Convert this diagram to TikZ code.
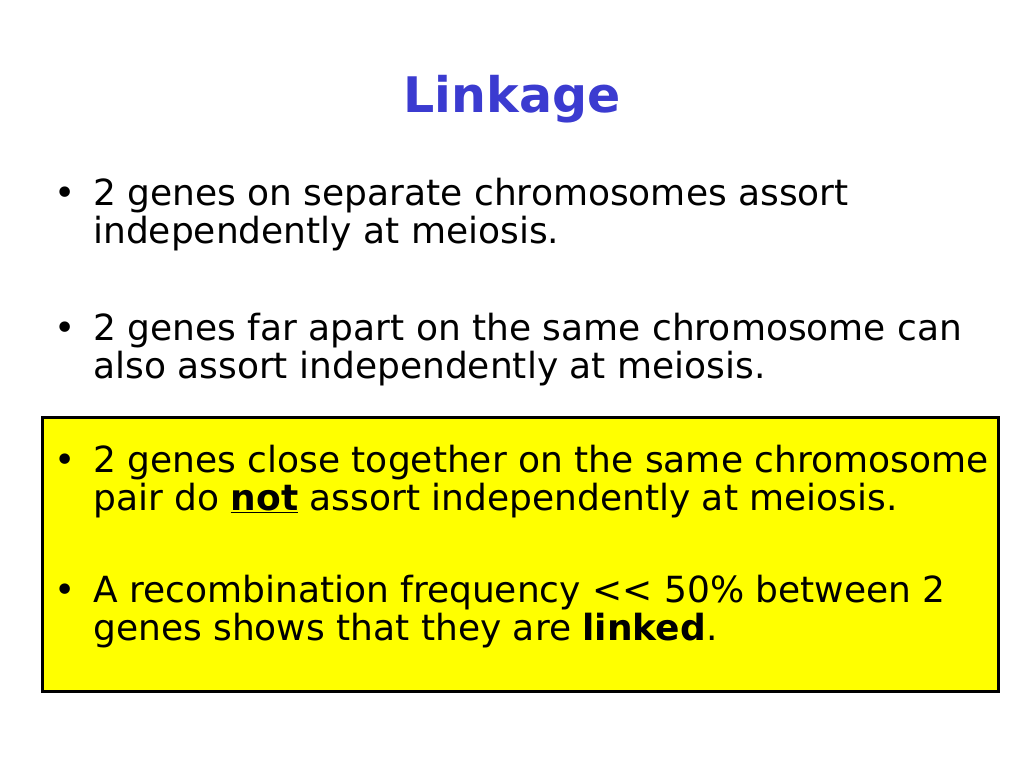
\documentclass[tikz,border=0pt]{standalone}
\usepackage{fontspec}
\setmainfont{DejaVu Sans}
\usepackage{xcolor}
\usepackage{tikz}
\usetikzlibrary{positioning}
\definecolor{titleblue}{RGB}{59,59,208}
\definecolor{boxyellow}{RGB}{255,255,0}

\begin{document}
\begin{tikzpicture}[x=1pt,y=-1pt,
    line/.style={anchor=base west, inner sep=0pt, font=\fontsize{36}{38}\selectfont},
    dot/.style={anchor=base west, inner sep=0pt, font=\fontsize{36}{38}\selectfont}]
            \useasboundingbox (0,0) rectangle (1024,768);
            \fill[white] (0,0) rectangle (1024,768);
            \node[anchor=base, inner sep=0pt, text=titleblue, font=\fontsize{49}{52}\selectfont\bfseries] (title) at (512,112) {Linkage};
            
            \node[draw=black, line width=3pt, fill=boxyellow, minimum width=956pt, minimum height=274pt, inner sep=0pt] (box) at (520.5,554) {};
            
            \node[dot] (b1) at (54,205) {•};
            \node[line] (l1a) at (93,205) {2 genes on separate chromosomes assort};
            \node[line] (l1b) at (93,243) {independently at meiosis.};
            
            \node[dot] (b2) at (54,340) {•};
            \node[line] (l2a) at (93,340) {2 genes far apart on the same chromosome can};
            \node[line] (l2b) at (93,378) {also assort independently at meiosis.};
            
            \node[dot] (b3) at (54,472) {•};
            \node[line] (l3a) at (93,472) {2 genes close together on the same chromosome};
            \node[line] (l3b) at (93,510) {pair do \underline{\textbf{not}} assort independently at meiosis.};
            
            \node[dot] (b4) at (54,602) {•};
            \node[line] (l4a) at (93,602) {A recombination frequency {<}{<} 50\% between 2};
            \node[line] (l4b) at (93,640) {genes shows that they are \textbf{linked}.};
        \end{tikzpicture}
\end{document}
